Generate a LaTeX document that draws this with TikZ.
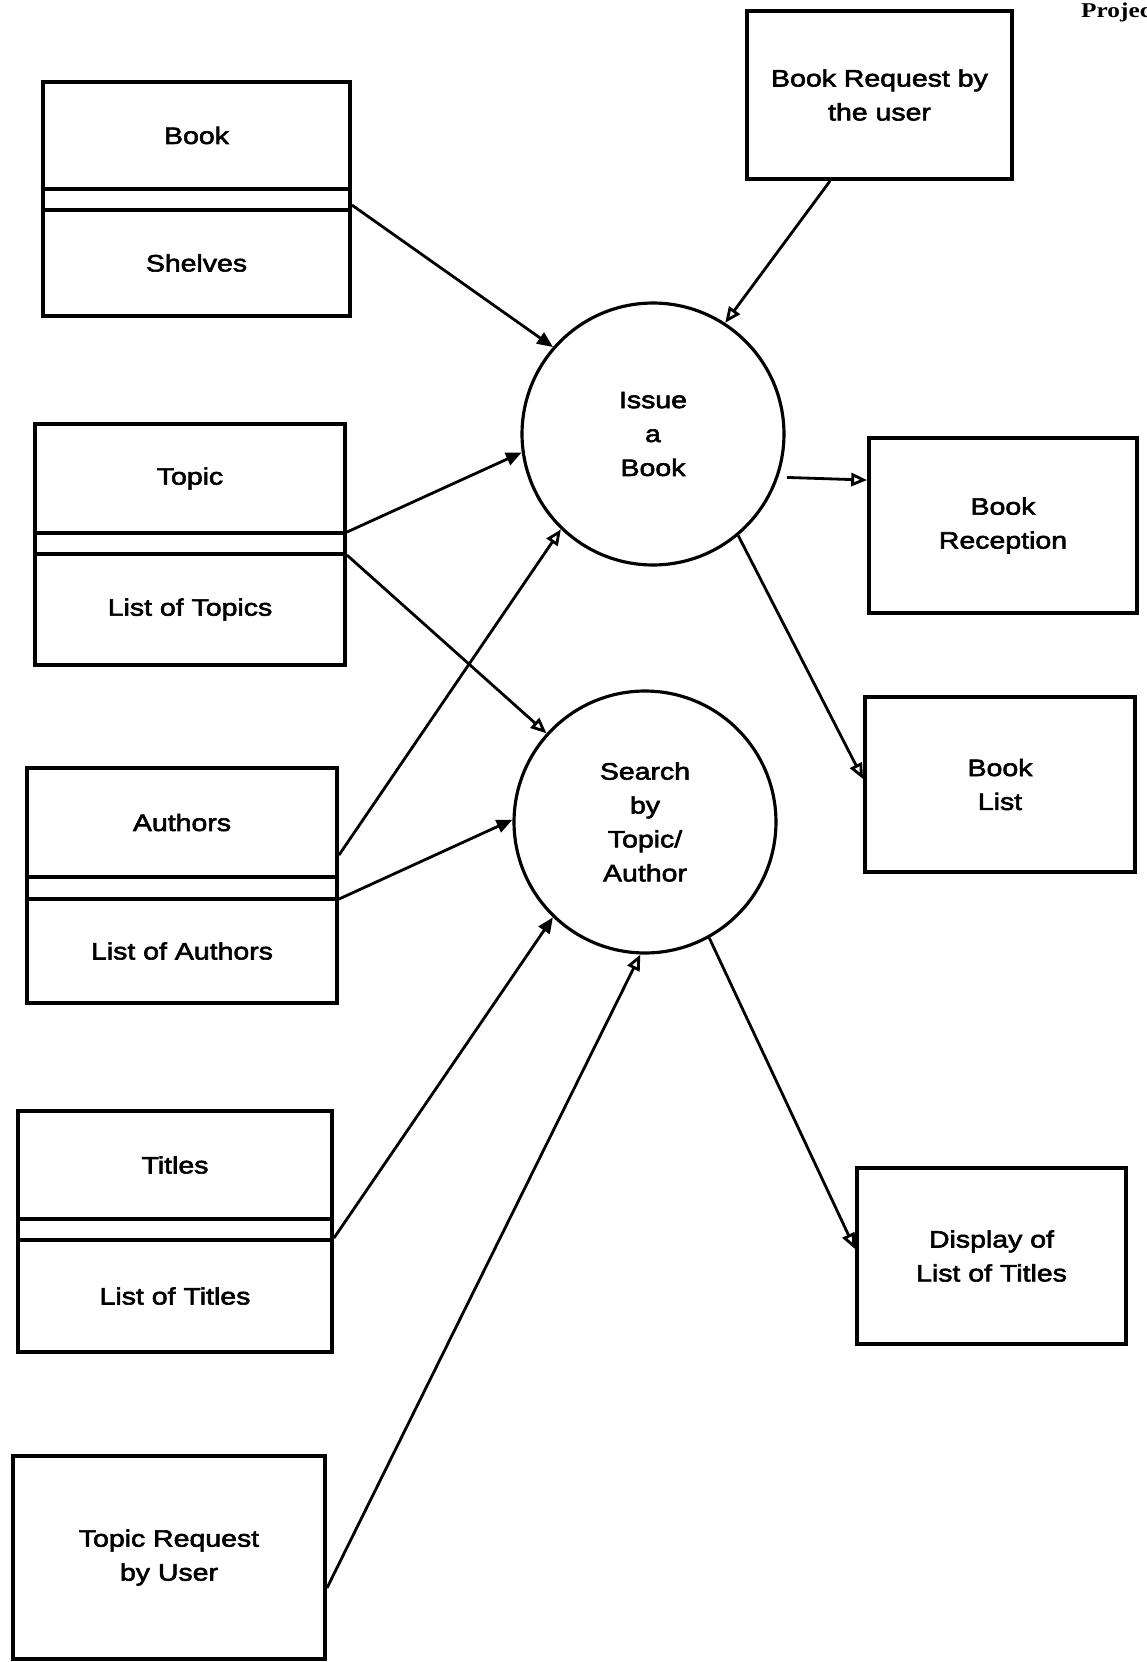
\documentclass[tikz,border=0pt]{standalone}
\usepackage{fontspec}
\setmainfont{Liberation Sans}[FakeStretch=1.2, FakeBold=2.5]
\newfontfamily\headfont{Liberation Serif}[FakeStretch=1.2]
\usetikzlibrary{arrows.meta}

% Data store: outer box, two divider lines, a label in each half.
% #1 name, #2 left, #3 top, #4 right, #5 bottom, #6/#7 divider rows, #8 upper label, #9 lower label
\newcommand\datastore[9]{%
  \node[box, minimum width={(#4-#2)*0.02cm}, minimum height={(#5-#3)*0.02cm}]
    (#1) at ({(#2+#4)/2},{(#3+#5)/2}) {};
  \draw[divider] (#2,#6) -- (#4,#6);
  \draw[divider] (#2,#7) -- (#4,#7);
  \node (#1-upper) at ({(#2+#4)/2},{(#3+#6)/2}) {#8};
  \node (#1-lower) at ({(#2+#4)/2},{(#7+#5)/2}) {#9};
}
% External entity: #1 name, #2 left, #3 top, #4 right, #5 bottom, #6 label
\newcommand\entity[6]{%
  \node[box, minimum width={(#4-#2)*0.02cm}, minimum height={(#5-#3)*0.02cm}]
    (#1) at ({(#2+#4)/2},{(#3+#5)/2}) {#6};
}

\begin{document}
\begin{tikzpicture}[x=0.02cm, y=-0.02cm,
  every node/.style={font=\fontsize{13.5}{19.3}\selectfont, align=center},
  box/.style={draw, line width=2.2pt, inner sep=0pt},
  divider/.style={line width=2.2pt},
  bubble/.style={draw, circle, line width=1.8pt, minimum size=5.24cm, inner sep=0pt},
  flow/.style={line width=1.6pt, -{Triangle[length=9pt,width=7.5pt]}},
  oflow/.style={line width=1.6pt, -{Triangle[open,length=9pt,width=7.5pt]}}
]
\useasboundingbox (0,0) rectangle (1146,1662);

% page heading, running off the right edge
\node[font=\fontsize{12}{14}\headfont\bfseries\selectfont, anchor=base west]
  (heading) at (1075,18) {Project};

% data stores
\datastore{books}{43}{82}{350}{316}{189}{210}{Book}{Shelves}
\datastore{topics}{35}{424}{345}{665}{533}{554}{Topic}{List of Topics}
\datastore{authors}{27}{768}{337}{1003}{877}{899}{Authors}{List of Authors}
\datastore{titles}{18}{1111}{332}{1352}{1219}{1240}{Titles}{List of Titles}

% external entities
\entity{bookreq}{747}{11}{1012}{179}{Book Request by\\the user}
\entity{topicreq}{13}{1456}{325}{1659}{Topic Request\\by User}
\entity{reception}{869}{438}{1137}{613}{Book\\Reception}
\entity{booklist}{865}{697}{1135}{872}{Book\\List}
\entity{display}{857}{1168}{1126}{1344}{Display of\\List of Titles}

% processes
\node[bubble] (issue) at (653,434) {Issue\\a\\Book};
\node[bubble] (search) at (645,822) {Search\\by\\Topic/\\Author};

% data flows
\draw[flow]  ([shift={(0,125)}]books.north east) -- (issue.139);
\draw[oflow] ([shift={(85,0)}]bookreq.south west) -- (issue.57);
\draw[flow]  ([shift={(0,110)}]topics.north east) -- (issue.188.5);
\draw[oflow] ([shift={(0,133)}]topics.north east) -- (search.138);
\draw[oflow] ([shift={(0,89)}]authors.north east) -- (issue.226);
\draw[flow]  ([shift={(0,133)}]authors.north east) -- (search.179);
\draw[flow]  ([shift={(0,129)}]titles.north east) -- (search.226.5);
\draw[oflow] ([shift={(0,134)}]topicreq.north east) -- (search.268);
\draw[oflow, shorten <=5pt] (issue.341) -- ([shift={(0,44)}]reception.north west);
\draw[oflow] (issue.310) -- ([shift={(0,84)}]booklist.north west);
\draw[oflow] (search.299) -- ([shift={(0,83)}]display.north west);
\end{tikzpicture}
\end{document}
